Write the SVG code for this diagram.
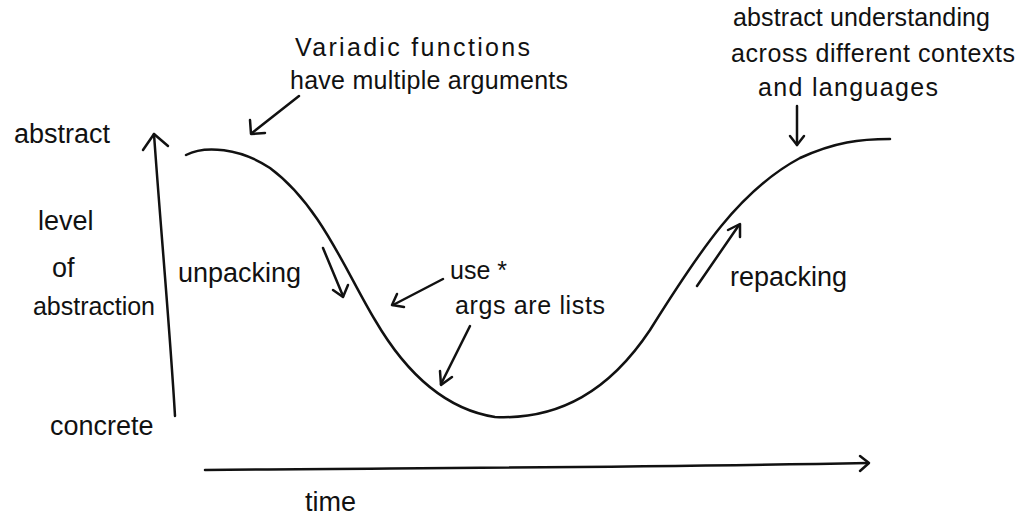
<svg xmlns="http://www.w3.org/2000/svg" width="1023" height="520" viewBox="0 0 1023 520">
<style>
.t{font-family:"Liberation Sans","DejaVu Sans",sans-serif;font-size:25px;fill:#111}
.b{font-size:27px}
.s{fill:none;stroke:#111;stroke-width:2.5;stroke-linecap:round;stroke-linejoin:round}
</style>
<rect width="1023" height="520" fill="#fff"/>
<g id="axes">
<path class="s" d="M175,416 C170,330 160,220 154,134"/>
<path class="s" d="M143,150 L154,134 L168,146"/>
<path class="s" d="M205,470 C400,468 600,468 868,463"/>
<path class="s" d="M860,456 L869,463 L860,471"/>
</g>
<g id="curve">
<path class="s" d="M186,155 C205,145 240,148 270,168 C320,205 345,270 375,320 C410,380 450,410 495,417 C560,420 610,390 650,330 C700,250 740,190 800,158 C835,142 860,139 890,139"/>
</g>
<g id="label-abstract"><text class="t b" x="14" y="143">abstract</text></g>
<g id="label-level"><text class="t b" x="38" y="230">level</text><text class="t b" x="52" y="277">of</text><text class="t" x="33" y="315" textLength="122">abstraction</text></g>
<g id="label-concrete"><text class="t b" x="50" y="435">concrete</text></g>
<g id="label-variadic">
<text class="t" x="295" y="56" textLength="235">Variadic functions</text>
<text class="t" x="290" y="89" textLength="278">have multiple arguments</text>
</g>
<g id="label-unpacking">
<text class="t b" x="178" y="282">unpacking</text>
</g>
<g id="label-use"><text class="t" x="450" y="279">use *</text></g>
<g id="label-args"><text class="t" x="455" y="314" textLength="150">args are lists</text></g>
<g id="label-abstract-understanding">
<text class="t" x="733" y="26" textLength="257">abstract understanding</text>
<text class="t" x="731" y="62" textLength="284">across different contexts</text>
<text class="t" x="758" y="96" textLength="180">and languages</text>
</g>
<g id="label-repacking"><text class="t b" x="730" y="286">repacking</text></g>
<g id="label-time"><text class="t b" x="305" y="511">time</text></g>
<g id="connectors">
<path class="s" d="M299,96 L252,133"/>
<path class="s" d="M250,120 L251,134 L265,133"/>
<path class="s" d="M323,248 L343,296"/>
<path class="s" d="M333,290 L343,297 L348,285"/>
<path class="s" d="M443,279 L393,305"/>
<path class="s" d="M397,294 L392,305 L404,307"/>
<path class="s" d="M470,326 L441,384"/>
<path class="s" d="M440,371 L441,385 L452,377"/>
<path class="s" d="M797,106 L797,145"/>
<path class="s" d="M790,136 L797,145 L804,136"/>
<path class="s" d="M697,286 L739,225"/>
<path class="s" d="M728,230 L740,224 L740,237"/>
</g>
</svg>
